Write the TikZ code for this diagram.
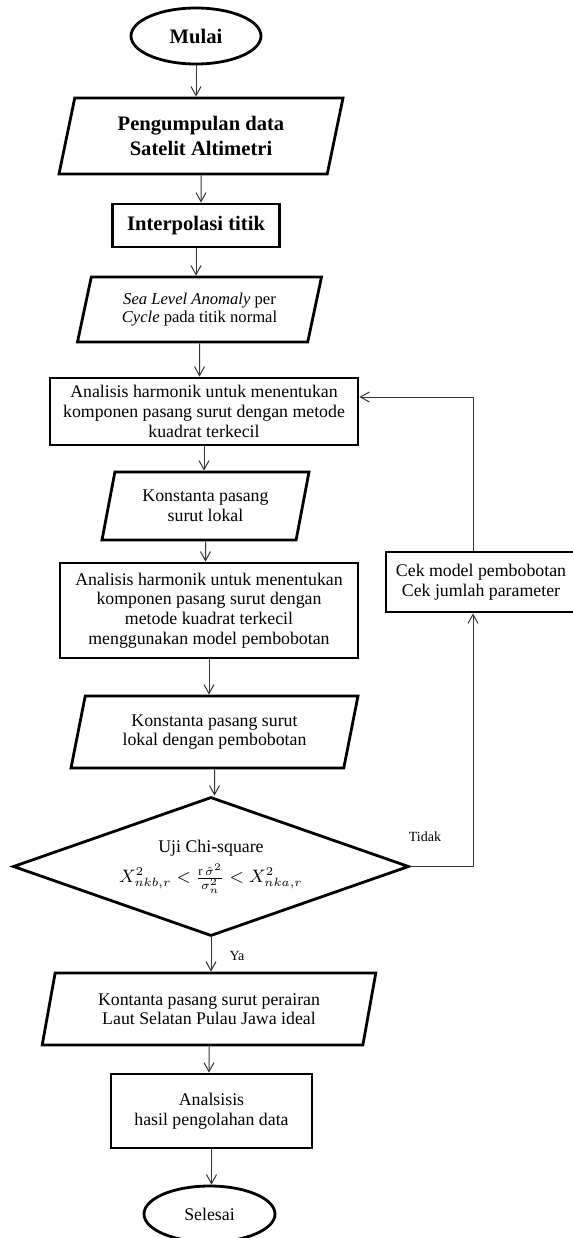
\documentclass[tikz,border=0pt]{standalone}
\usepackage{fontspec}
\setmainfont{Liberation Serif}
\usetikzlibrary{shapes.geometric,arrows.meta}

\begin{document}
\begin{tikzpicture}[x=0.5pt,y=-0.5pt,>={Straight Barb[length=4.5pt,width=5pt]},
    teks/.style={font=\fontsize{8.9}{9.8}\selectfont},
    tebal/.style={font=\bfseries\fontsize{10.3}{12.4}\selectfont},
    proses/.style={draw,line width=1.4pt,rectangle,align=center,inner sep=1pt,teks},
    data/.style={draw,line width=1.4pt,trapezium,trapezium left angle=70,trapezium right angle=110,
        trapezium stretches body,align=center,inner sep=1pt,teks},
    terminal/.style={draw,line width=1.4pt,ellipse,inner sep=1pt,teks},
    keputusan/.style={draw,line width=1.4pt,diamond,aspect=2.85,align=center,inner sep=0pt,teks},
    garis/.style={->,line width=0.5pt,draw=black!80}]
    \useasboundingbox (0,0) rectangle (573,1238);

    \node [terminal,tebal,minimum width=65pt,minimum height=28pt] (mulai) at (196,36) {Mulai};

    \node [data,tebal,minimum width=142pt,minimum height=38pt] (kumpul) at (201,136) {Pengumpulan data\\Satelit Altimetri};
    \draw [garis] (mulai) -- (mulai |- kumpul.north);

    \node [proses,tebal,minimum width=83.75pt,minimum height=21.5pt] (interpolasi) at (196,225.5) {Interpolasi titik};
    \draw [garis] (kumpul) -- (kumpul |- interpolasi.north);

    \node [data,minimum width=122pt,minimum height=32.5pt,font=\fontsize{8.3}{9.4}\selectfont] (sla) at (199.5,309.5) {\textit{Sea Level Anomaly} per\\\textit{Cycle} pada titik normal};
    \draw [garis] (interpolasi) -- (interpolasi |- sla.north);

    \node [proses,minimum width=154pt,minimum height=33.5pt] (harmonik) at (204,411.5) {Analisis harmonik untuk menentukan\\komponen pasang surut dengan metode\\kuadrat terkecil};
    \draw [garis] (sla) -- (sla |- harmonik.north);

    \node [data,minimum width=103.5pt,minimum height=34pt] (lokal) at (205.5,506) {Konstanta pasang\\surut lokal};
    \draw [garis] (harmonik) -- (harmonik |- lokal.north);

    \node [proses,minimum width=149pt,minimum height=47.5pt] (harmonikbobot) at (209,610.5) {Analisis harmonik untuk menentukan\\komponen pasang surut dengan\\metode kuadrat terkecil\\menggunakan model pembobotan};
    \draw [garis] (lokal) -- (lokal |- harmonikbobot.north);

    \node [data,minimum width=143.5pt,minimum height=36pt] (lokalbobot) at (214.5,732) {Konstanta pasang surut\\lokal dengan pembobotan};
    \draw [garis] (harmonikbobot) -- (harmonikbobot |- lokalbobot.north);

    \node [keputusan,minimum width=198pt,minimum height=69.5pt] (chi) at (211,866.5) {Uji Chi-square\\[3pt]$X^2_{nkb,r} < \frac{\mathrm{r}\,\hat{\sigma}^2}{\sigma_n^2} < X^2_{nka,r}$};
    \draw [garis] (lokalbobot) -- (lokalbobot |- chi.north);

    \node [proses,minimum width=95pt,minimum height=30pt] (cek) at (481,582) {Cek model pembobotan\\Cek jumlah parameter};
    \coordinate (belok) at (473,866.5);
    \coordinate (atas) at (473,397);
    \draw [garis] (chi.east) -- (belok) -- (belok |- cek.south);
    \draw [garis] (belok |- cek.north) -- (atas) -- (atas -| harmonik.east);
    \node [font=\fontsize{7}{8}\selectfont] (tidak) at (425,837) {Tidak};

    \node [data,minimum width=166.8pt,minimum height=36pt] (ideal) at (209,1009) {Kontanta pasang surut perairan\\Laut Selatan Pulau Jawa ideal};
    \draw [garis] (chi) -- (chi |- ideal.north);
    \node [font=\fontsize{7}{8}\selectfont] (ya) at (237,956) {Ya};

    \node [proses,minimum width=100.5pt,minimum height=37pt] (hasil) at (211.5,1111) {Analsisis\\hasil pengolahan data};
    \draw [garis] (ideal) -- (ideal |- hasil.north);

    \node [terminal,minimum width=65.5pt,minimum height=28pt] (selesai) at (209.5,1214) {Selesai};
    \draw [garis] (hasil) -- (hasil |- selesai.north);
\end{tikzpicture}
\end{document}
